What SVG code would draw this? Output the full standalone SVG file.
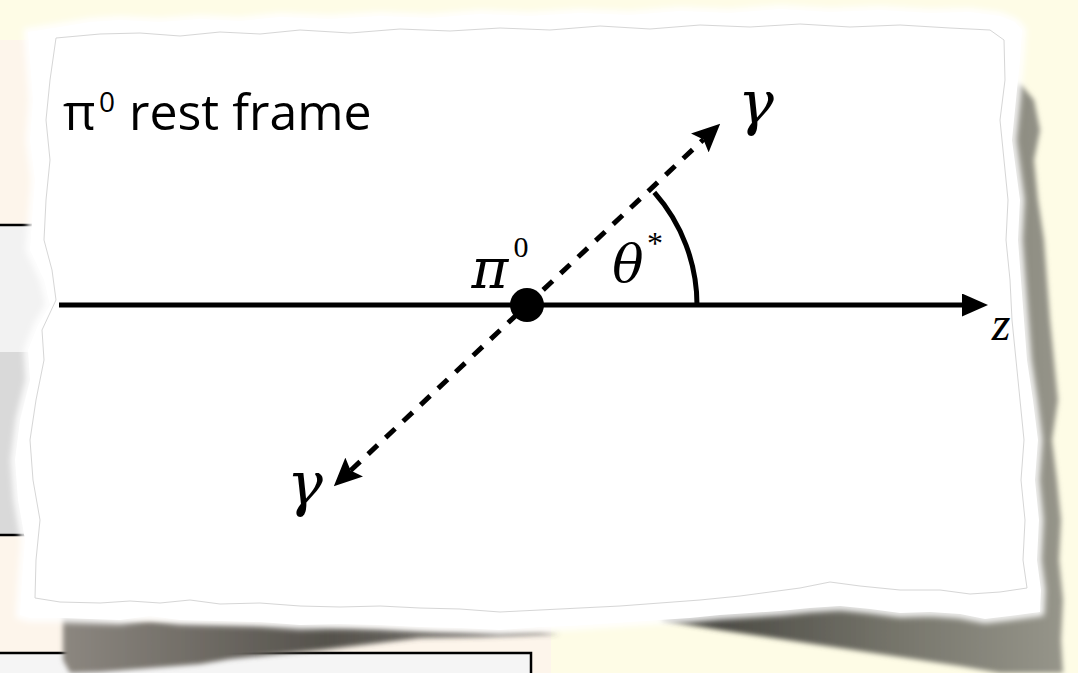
<svg xmlns="http://www.w3.org/2000/svg" width="1078" height="673" viewBox="0 0 1078 673">
<defs>
<style>
.math{font-family:"Liberation Serif","Times New Roman",serif;font-style:italic;fill:#000}
.greek{font-family:"DejaVu Serif","Liberation Serif",serif;font-style:italic;fill:#000}
.up{font-family:"Liberation Serif","Times New Roman",serif;fill:#000}
.label{font-family:"Open Sans","Liberation Sans",sans-serif;fill:#000}
.axis{stroke:#000;stroke-width:5;fill:none}
.photon{stroke:#000;stroke-width:5;fill:none;stroke-dasharray:13 11}
</style>
<marker id="tri" viewBox="0 0 26 23" refX="0" refY="11.5" markerWidth="26" markerHeight="23" markerUnits="userSpaceOnUse" orient="auto">
<path d="M0 0 L26 11.5 L0 23 Z" fill="#000"/>
</marker>
<marker id="stealth" viewBox="0 0 28 26" refX="5" refY="13" markerWidth="28" markerHeight="26" markerUnits="userSpaceOnUse" orient="auto-start-reverse">
<path d="M0 0 L28 13 L0 26 L5 13 Z" fill="#000"/>
</marker>
<filter id="blur" x="-10%" y="-10%" width="120%" height="120%"><feGaussianBlur stdDeviation="2.5"/></filter>
<filter id="halo" x="-10%" y="-10%" width="120%" height="120%"><feGaussianBlur stdDeviation="3"/></filter>
<linearGradient id="shR" gradientUnits="userSpaceOnUse" x1="660" y1="0" x2="1062" y2="0">
<stop offset="0" stop-color="#3f3e39"/><stop offset="0.6" stop-color="#77766c"/><stop offset="1" stop-color="#96958a"/>
</linearGradient>
<linearGradient id="shL" gradientUnits="userSpaceOnUse" x1="63" y1="0" x2="440" y2="0">
<stop offset="0" stop-color="#8c8780"/><stop offset="0.7" stop-color="#55524c"/><stop offset="1" stop-color="#4a4843" stop-opacity="0.8"/>
</linearGradient>
</defs>

<g id="background">
<rect x="0" y="0" width="1078" height="673" fill="#fefce6"/>
<rect x="0" y="40" width="551" height="633" fill="#fdf5eb"/>
<rect x="-3" y="225" width="120" height="310" fill="#f2f2f2"/>
<rect x="-3" y="352" width="120" height="183" fill="#d9d9d9"/>
<line x1="0" y1="225" x2="120" y2="225" stroke="#000" stroke-width="2.5"/>
<line x1="0" y1="535" x2="120" y2="535" stroke="#000" stroke-width="2.5"/>
<rect x="-3" y="653" width="534" height="30" fill="#f5f5f5" stroke="#000" stroke-width="2.5"/>
</g>

<g id="paper">
<path filter="url(#blur)" fill="url(#shR)" d="M1008 80 L1022 86 L1034 100 L1040 130 L1034 160 L1038 200 L1044 240 L1047 280 L1050 320 L1054 360 L1058 400 L1052 440 L1057 480 L1061 520 L1059 560 L1063 600 L1061 640 L1063 673 L1000 673 L960 666 L920 660 L880 654 L840 648 L800 642 L760 636 L720 630 L690 625 L662 620 L662 600 L1008 600 Z"/>
<path filter="url(#blur)" fill="url(#shL)" d="M63 612 L80 616 L120 620 L200 622 L300 624 L380 627 L440 630 L540 632 L560 634 L480 637 L420 638 L370 644 L320 650 L270 655 L230 659 L200 664 L150 668 L100 672 L70 673 L63 660 Z"/>
<path fill="none" stroke="#ffffff" stroke-width="8" filter="url(#halo)" d="M28 32 L60 27 L90 22 L120 20 L160 22 L200 19 L240 21 L280 17 L330 19 L380 16 L430 18 L480 14 L530 16 L580 13 L630 15 L680 11 L730 13 L780 9 L830 12 L880 10 L930 13 L970 12 L1000 16 L1015 22 L1022 30 L1020 60 L1016 100 L1012 140 L1016 170 L1020 200 L1018 240 L1021 280 L1024 320 L1027 360 L1033 400 L1038 440 L1035 480 L1039 520 L1037 560 L1041 590 L1040 612 L1010 616 L985 619 L960 614 L930 612 L900 613 L870 609 L840 606 L810 608 L780 611 L750 613 L720 615 L690 618 L660 620 L630 622 L600 624 L570 626 L540 627 L500 630 L460 628 L420 627 L380 625 L340 624 L300 625 L260 622 L220 621 L180 620 L150 616 L120 620 L90 619 L60 618 L30 618 L20 615 L22 580 L25 540 L18 500 L15 460 L20 420 L30 380 L28 350 L38 325 L50 305 L44 280 L30 250 L32 220 L35 180 L30 140 L33 100 L30 60 Z"/>
<path fill="#ffffff" d="M28 32 L60 27 L90 22 L120 20 L160 22 L200 19 L240 21 L280 17 L330 19 L380 16 L430 18 L480 14 L530 16 L580 13 L630 15 L680 11 L730 13 L780 9 L830 12 L880 10 L930 13 L970 12 L1000 16 L1015 22 L1022 30 L1020 60 L1016 100 L1012 140 L1016 170 L1020 200 L1018 240 L1021 280 L1024 320 L1027 360 L1033 400 L1038 440 L1035 480 L1039 520 L1037 560 L1041 590 L1040 612 L1010 616 L985 619 L960 614 L930 612 L900 613 L870 609 L840 606 L810 608 L780 611 L750 613 L720 615 L690 618 L660 620 L630 622 L600 624 L570 626 L540 627 L500 630 L460 628 L420 627 L380 625 L340 624 L300 625 L260 622 L220 621 L180 620 L150 616 L120 620 L90 619 L60 618 L30 618 L20 615 L22 580 L25 540 L18 500 L15 460 L20 420 L30 380 L28 350 L38 325 L50 305 L44 280 L30 250 L32 220 L35 180 L30 140 L33 100 L30 60 Z"/>
<path fill="none" stroke="#d6d6d6" stroke-width="1" d="M56 38 L100 34 L140 33 L180 36 L220 32 L260 34 L300 30 L350 33 L400 29 L450 31 L500 28 L550 30 L600 26 L650 29 L700 25 L750 27 L800 24 L850 27 L900 25 L950 28 L990 30 L1004 40 L1005 80 L1000 120 L1004 160 L1008 200 L1006 240 L1010 280 L1012 320 L1016 360 L1020 400 L1024 440 L1021 480 L1025 520 L1023 560 L1027 588 L1000 592 L970 594 L940 590 L900 590 L860 586 L830 582 L800 588 L770 592 L740 596 L700 600 L660 603 L620 606 L580 608 L540 610 L500 612 L460 609 L420 608 L380 606 L340 607 L300 606 L260 603 L220 604 L190 600 L160 603 L130 601 L100 603 L60 602 L35 598 L36 560 L40 520 L33 480 L30 440 L36 400 L44 360 L42 330 L56 300 L52 270 L44 240 L46 200 L50 160 L46 120 L50 80 L56 38"/>
</g>

<g id="title">
<text class="label" x="63" y="130" font-size="50">π</text>
<text class="label" x="99" y="112" font-size="28">0</text>
<text class="label" x="129" y="130" font-size="50">rest frame</text>
</g>

<g id="connectors">
<line class="axis" x1="59" y1="305" x2="962" y2="305" marker-end="url(#tri)"/>
<line class="photon" x1="350.6" y1="470.5" x2="703.4" y2="139.5" marker-start="url(#stealth)" marker-end="url(#stealth)"/>
<path class="axis" stroke-width="4.5" d="M654.3 192.4 A170 170 0 0 1 697 305"/>
</g>

<g id="pi0">
<circle cx="527" cy="305" r="17" fill="#000"/>
<text class="greek" x="490" y="288" font-size="56" text-anchor="middle">π</text>
<text class="up" x="521" y="257" font-size="30" text-anchor="middle">0</text>
</g>

<g id="theta">
<text class="greek" x="628" y="282" font-size="52" text-anchor="middle">θ</text>
<text class="up" x="655" y="254" font-size="32" text-anchor="middle">*</text>
</g>

<g id="gamma-top">
<text class="greek" x="756" y="124" font-size="60" text-anchor="middle">γ</text>
</g>
<g id="gamma-bottom">
<text class="greek" x="305" y="505" font-size="60" text-anchor="middle">γ</text>
</g>
<g id="z-label">
<text class="math" x="1001" y="340" font-size="48" text-anchor="middle">z</text>
</g>
</svg>
